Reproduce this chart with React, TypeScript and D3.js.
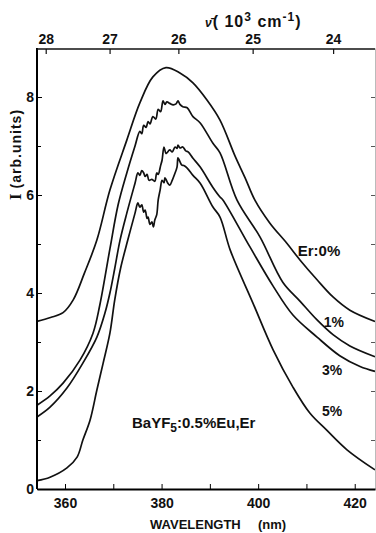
import React, { useRef, useEffect } from 'react';
import * as d3 from 'd3';

// Emission spectra of BaYF5:0.5%Eu,Er — [wavelength nm, intensity arb. units]
const er0: [number, number][] = [
  [354.2, 3.42], [357, 3.5], [359.6, 3.6], [361.7, 3.86], [364, 4.4], [366.6, 5.08],
  [369.3, 6.1], [372.8, 7.12], [375.5, 7.88], [378.2, 8.41], [380.9, 8.6], [383.8, 8.49],
  [386.5, 8.29], [389.4, 7.94], [392.1, 7.53], [395.2, 6.8], [397.3, 6.35], [399.3, 5.9],
  [402.4, 5.43], [405.9, 5.02], [408.7, 4.67], [412.2, 4.27], [415.5, 3.92], [419, 3.65],
  [424.2, 3.42],
];

const er1: [number, number][] = [
  [354.2, 1.71], [356.9, 1.9], [359.6, 2.16], [363.1, 2.63], [365.8, 3.18], [367.2, 3.75],
  [369.3, 4.9], [371, 5.8], [372.8, 6.45], [374.5, 7.0], [375.5, 7.3], [375.9, 7.25],
  [376.3, 7.42], [376.8, 7.38], [377.2, 7.5], [377.6, 7.45], [378.2, 7.6], [378.8, 7.55],
  [379.3, 7.75], [379.8, 7.7], [380.3, 7.92], [380.7, 7.85], [381.1, 7.9], [381.7, 7.87],
  [382.4, 7.84], [383, 7.86], [383.4, 7.92], [383.8, 7.85], [384.4, 7.8], [385.3, 7.78],
  [386.5, 7.6], [388, 7.47], [390.6, 7.06], [392.1, 6.86], [395.6, 5.9], [400.4, 5.14],
  [405.1, 4.22], [408.7, 3.83], [412.2, 3.45], [415.5, 3.15], [419, 2.92], [424.2, 2.7],
];

const er3: [number, number][] = [
  [354.2, 1.47], [356.9, 1.67], [360.4, 2.06], [363.7, 2.57], [366.6, 3.1], [368.3, 3.6],
  [369.3, 4.0], [370.3, 4.5], [371.4, 5.08], [372.8, 5.63], [374.5, 6.24], [375.1, 6.45],
  [375.5, 6.4], [375.9, 6.5], [376.3, 6.45], [376.6, 6.38], [377, 6.42], [377.4, 6.3],
  [378, 6.32], [378.6, 6.28], [379, 6.45], [379.3, 6.42], [379.8, 6.6], [380.1, 6.71],
  [380.5, 6.98], [380.9, 6.85], [381.1, 6.86], [381.7, 6.92], [382.2, 6.88], [382.8, 6.98],
  [383.2, 6.95], [383.4, 7.02], [383.8, 6.96], [384.4, 6.98], [385, 6.9], [385.5, 6.88],
  [386.5, 6.75], [388, 6.57], [390.6, 6.16], [392.1, 5.96], [392.7, 5.9], [398.3, 4.94],
  [403.1, 4.14], [407.2, 3.55], [412.2, 3.1], [416.9, 2.72], [421.1, 2.5], [424.2, 2.4],
];

const er5: [number, number][] = [
  [354.2, 0.17], [356.9, 0.24], [360.4, 0.43], [362.5, 0.65], [363.7, 1.0], [365.2, 1.41],
  [366.6, 2.02], [367.9, 2.57], [369.3, 3.18], [370.3, 3.86], [371.5, 4.5], [373, 5.08],
  [374.5, 5.63], [375.1, 5.84], [375.5, 5.75], [375.9, 5.8], [376.3, 5.65], [376.6, 5.69],
  [377, 5.52], [377.2, 5.55], [377.6, 5.4], [378, 5.45], [378.3, 5.35], [378.6, 5.49],
  [379, 5.6], [379.3, 5.9], [379.7, 6.1], [380.1, 6.3], [380.5, 6.25], [380.7, 6.35],
  [381.1, 6.28], [381.3, 6.24], [381.7, 6.2], [382.2, 6.3], [382.6, 6.4], [383.2, 6.57],
  [383.4, 6.76], [383.8, 6.68], [384.2, 6.61], [384.6, 6.6], [385.3, 6.55], [386.5, 6.4],
  [388, 6.24], [390.6, 5.76], [392.1, 5.55], [394.2, 4.88], [398.9, 3.8], [403.1, 2.84],
  [407.2, 2.08], [410.7, 1.55], [414.2, 1.2], [418.4, 0.8], [424.2, 0.39],
];

const bottomTicks = [360, 370, 380, 390, 400, 410, 420];
const leftTicks = [0, 1, 2, 3, 4, 5, 6, 7, 8];
const topTicks = [28, 27, 26, 25, 24]; // 10^3 cm-1

const seriesLabels = [
  { text: 'Er:0%', wl: 408.2, v: 4.75, size: 15 },
  { text: '1%', wl: 413.6, v: 3.3, size: 14 },
  { text: '3%', wl: 413.2, v: 2.33, size: 14 },
  { text: '5%', wl: 413.2, v: 1.5, size: 14 },
];

const font = "'Liberation Sans', Arial, Helvetica, sans-serif";

const App: React.FC = () => {
  const svgRef = useRef<SVGSVGElement>(null);
  const width = 376;
  const height = 533;
  const margin = { top: 48, right: 1, bottom: 44, left: 37 };

  useEffect(() => {
    if (!svgRef.current) return;
    const svg = d3.select(svgRef.current);
    svg.selectAll('*').remove();

    const x = d3.scaleLinear().domain([354.2, 424.2]).range([margin.left, width - margin.right]);
    const y = d3.scaleLinear().domain([0, 9]).range([height - margin.bottom, margin.top]);
    const topShift = -5;

    // Spectra
    const line = d3.line<[number, number]>()
      .x(d => x(d[0]))
      .y(d => y(d[1]))
      .curve(d3.curveCatmullRom.alpha(0.5));

    [er0, er1, er3, er5].forEach(s => {
      svg.append('path')
        .attr('d', line(s) || '')
        .attr('fill', 'none')
        .attr('stroke', '#111')
        .attr('stroke-width', 1.7);
    });

    // Right axis (faint)
    const right = svg.append('g')
      .attr('transform', `translate(${width - margin.right},0)`)
      .call(d3.axisRight(y).tickValues(leftTicks.slice(1)).tickSizeInner(-4).tickSizeOuter(0).tickFormat(() => ''));
    right.select('.domain').attr('stroke', '#bbb').attr('stroke-width', 1);
    right.selectAll('.tick line').attr('stroke', '#555');

    // Bottom axis
    const bottom = svg.append('g')
      .attr('transform', `translate(0,${height - margin.bottom})`)
      .call(d3.axisBottom(x).tickValues(bottomTicks).tickSizeInner(-5).tickSizeOuter(0).tickPadding(9)
        .tickFormat(d => (+d % 20 === 0 ? String(d) : '')));
    bottom.select('.domain').attr('stroke-width', 2);
    bottom.selectAll('text')
      .attr('font-family', font).attr('font-size', 14).attr('font-weight', 'bold').attr('fill', '#111');

    // Left axis
    const left = svg.append('g')
      .attr('transform', `translate(${margin.left},0)`)
      .call(d3.axisLeft(y).tickValues(leftTicks).tickSizeInner(-5).tickSizeOuter(0).tickPadding(3)
        .tickFormat(d => (+d % 2 === 0 ? String(d) : '')));
    left.select('.domain').attr('d', `M0,${height - margin.bottom}V${margin.top}`).attr('stroke-width', 2);
    left.selectAll('.tick line').filter(d => (d as number) % 2 === 1).attr('x2', 4);
    left.selectAll('text')
      .attr('font-family', font).attr('font-size', 14).attr('font-weight', 'bold').attr('fill', '#111');

    // Top axis (wavenumber, 10^3 cm-1)
    const topG = svg.append('g');
    topG.append('line')
      .attr('x1', margin.left).attr('x2', width - margin.right)
      .attr('y1', margin.top + 1).attr('y2', margin.top + 1)
      .attr('stroke', '#111').attr('stroke-width', 1.6);
    topTicks.forEach(k => {
      const tx = x(1e4 / k) + topShift;
      topG.append('line')
        .attr('x1', tx).attr('x2', tx)
        .attr('y1', margin.top + 1).attr('y2', margin.top + 6)
        .attr('stroke', '#111').attr('stroke-width', 1.2);
      topG.append('text')
        .attr('x', tx).attr('y', margin.top - 4)
        .attr('text-anchor', 'middle')
        .attr('font-family', font).attr('font-size', 14).attr('font-weight', 'bold').attr('fill', '#111')
        .text(k);
    });

    const tt = svg.append('text')
      .attr('x', 205).attr('y', 27)
      .attr('letter-spacing', 1)
      .attr('font-family', font).attr('font-size', 16).attr('font-weight', 'bold').attr('fill', '#111');
    tt.append('tspan').attr('font-size', 12).attr('font-style', 'italic').text('\u03BD\u0304');
    tt.append('tspan').text('( 10');
    tt.append('tspan').attr('font-size', 12).attr('dy', -6).text('3');
    tt.append('tspan').attr('dy', 6).text(' cm');
    tt.append('tspan').attr('font-size', 12).attr('dy', -6).text('-1');
    tt.append('tspan').attr('dy', 6).text(')');

    // Axis titles
    const yt = svg.append('text')
      .attr('transform', 'translate(21,200) rotate(-90)')
      .attr('letter-spacing', 1)
      .attr('font-family', font).attr('font-size', 14).attr('font-weight', 'bold').attr('fill', '#111');
    yt.append('tspan').attr('font-family', "'Liberation Serif', serif").attr('font-size', 17).text('I');
    yt.append('tspan').attr('dx', 4).text('(arb.units)');

    svg.append('text')
      .attr('x', 150).attr('y', 529)
      .attr('font-family', font).attr('font-size', 13).attr('font-weight', 'bold').attr('fill', '#111')
      .text('WAVELENGTH');
    svg.append('text')
      .attr('x', 258).attr('y', 529)
      .attr('font-family', font).attr('font-size', 13).attr('font-weight', 'bold').attr('fill', '#111')
      .text('(nm)');

    // Series labels
    seriesLabels.forEach(l => {
      svg.append('text')
        .attr('x', x(l.wl)).attr('y', y(l.v))
        .attr('font-family', font).attr('font-size', l.size).attr('font-weight', 'bold').attr('fill', '#111')
        .text(l.text);
    });

    // Sample label
    const s = svg.append('text')
      .attr('x', 132).attr('y', 428)
      .attr('font-family', font).attr('font-size', 15).attr('font-weight', 'bold').attr('fill', '#111');
    s.append('tspan').text('BaYF');
    s.append('tspan').attr('font-size', 12).attr('dy', 4).text('5');
    s.append('tspan').attr('dy', -4).text(':0.5%Eu,Er');
  }, []);

  return (
    <svg
      ref={svgRef}
      width={width}
      height={height}
      style={{ position: 'absolute', left: 0, top: 0, background: '#fff' }}
    />
  );
};

export default App;
